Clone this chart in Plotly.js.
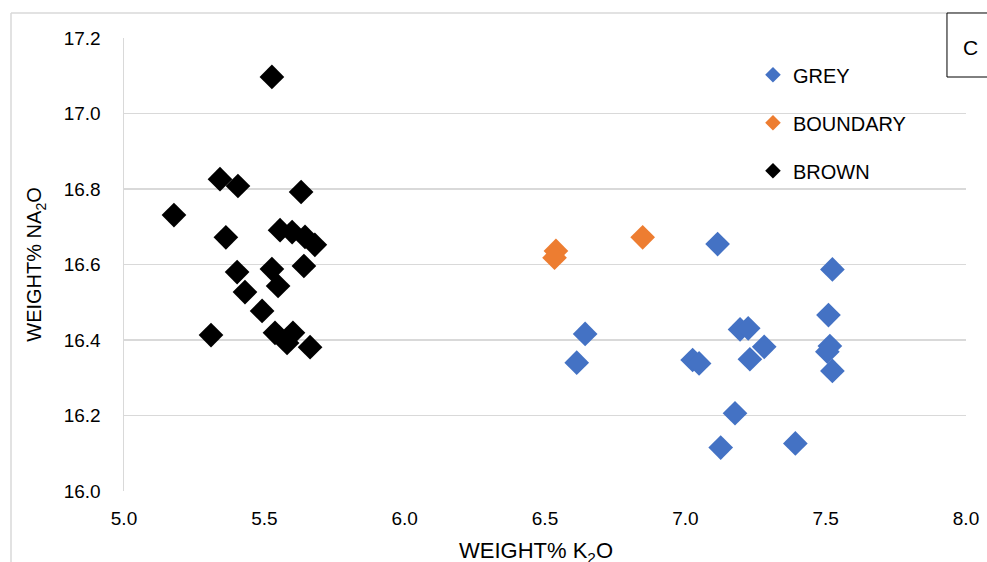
<!DOCTYPE html>
<html>
<head>
<meta charset="utf-8">
<script src="https://cdn.plot.ly/plotly-3.0.1.min.js"></script>
<style>html,body{margin:0;padding:0;background:#fff;}#chart{width:987px;height:562px;}</style>
</head>
<body>
<div id="chart"></div>
<script>
// GREY samples
const greyK2O = [7.115, 7.524, 7.510, 6.643, 7.195, 7.224, 7.281, 7.230, 7.515, 7.506, 7.524, 6.613, 7.026, 7.049, 7.177, 7.126, 7.392];
const greyNa2O = [16.654, 16.587, 16.466, 16.416, 16.428, 16.431, 16.382, 16.349, 16.384, 16.369, 16.318, 16.340, 16.347, 16.338, 16.206, 16.115, 16.126];
// BOUNDARY samples
const boundaryK2O = [6.539, 6.534, 6.848];
const boundaryNa2O = [16.636, 16.618, 16.672];
// BROWN samples
const brownK2O = [5.527, 5.178, 5.342, 5.406, 5.631, 5.363, 5.556, 5.599, 5.645, 5.680, 5.403, 5.527, 5.641, 5.549, 5.431, 5.492, 5.310, 5.538, 5.602, 5.581, 5.663];
const brownNa2O = [17.097, 16.731, 16.826, 16.808, 16.792, 16.672, 16.691, 16.686, 16.673, 16.652, 16.580, 16.588, 16.596, 16.543, 16.527, 16.477, 16.413, 16.419, 16.419, 16.392, 16.381];

const seriesNames = ['GREY', 'BOUNDARY', 'BROWN'];
const seriesColors = ['#4472C4', '#ED7D31', '#000000'];
const xTicks = [5.0, 5.5, 6.0, 6.5, 7.0, 7.5, 8.0];
const yTicks = [16.0, 16.2, 16.4, 16.6, 16.8, 17.0, 17.2];

const FONT = '"Liberation Sans", Arial, sans-serif';
const xs = [greyK2O, boundaryK2O, brownK2O];
const ys = [greyNa2O, boundaryNa2O, brownNa2O];

const traces = seriesNames.map((n, i) => ({
  type: 'scatter', mode: 'markers', name: n,
  x: xs[i], y: ys[i], legendgroup: 'g' + i,
  marker: {symbol: 'diamond', size: 19, color: seriesColors[i]},
  hoverinfo: 'x+y'
}));

const layout = {
  width: 987, height: 562,
  margin: {l: 124, r: 21, t: 38, b: 71},
  paper_bgcolor: '#fff', plot_bgcolor: '#fff',
  font: {family: FONT, size: 19, color: '#000'},
  showlegend: true,
  legend: {
    x: 0.747, y: 0.962, xanchor: 'left', yanchor: 'top',
    font: {family: FONT, size: 20, color: '#000'},
    itemsizing: 'constant', tracegroupgap: 19, traceorder: 'grouped',
    bgcolor: 'rgba(0,0,0,0)', itemwidth: 30
  },
  xaxis: {
    range: [5, 8], tickvals: xTicks, ticktext: xTicks.map(v => v.toFixed(1)),
    showgrid: false, zeroline: false, showline: false,
    ticks: 'outside', ticklen: 10, tickcolor: 'rgba(0,0,0,0)',
    tickfont: {family: FONT, size: 19, color: '#000'}
  },
  yaxis: {
    range: [16, 17.2], tickvals: yTicks, ticktext: yTicks.map(v => v.toFixed(1)),
    showgrid: true, gridcolor: '#D9D9D9', gridwidth: 1.5, zeroline: false,
    showline: true, linecolor: '#D9D9D9', linewidth: 1.5,
    ticks: 'outside', ticklen: 18, tickcolor: 'rgba(0,0,0,0)',
    tickfont: {family: FONT, size: 19, color: '#000'},
    title: {text: 'WEIGHT% NA<sub>2</sub>O', font: {family: FONT, size: 20, color: '#000'}, standoff: 16}
  },
  shapes: [
    {type: 'line', xref: 'paper', yref: 'paper', x0: -0.1342, x1: 0.9774, y0: 1.0552, y1: 1.0552, line: {color: '#D9D9D9', width: 1.5}},
    {type: 'line', xref: 'paper', yref: 'paper', x0: -0.1342, x1: -0.1342, y0: 1.0552, y1: -0.2, line: {color: '#D9D9D9', width: 1.5}},
    {type: 'rect', xref: 'paper', yref: 'paper', x0: 0.9774, x1: 1.04, y0: 0.9139, y1: 1.0552, line: {color: '#000', width: 1}, fillcolor: '#fff'}
  ],
  annotations: [
    {xref: 'paper', yref: 'paper', x: 1.0048, y: 0.978, xanchor: 'center', yanchor: 'middle', text: 'C', showarrow: false, font: {family: FONT, size: 21, color: '#000'}},
    {xref: 'paper', yref: 'paper', x: 0.4893, y: -0.1347, xanchor: 'center', yanchor: 'middle', text: 'WEIGHT% K<sub>2</sub>O', showarrow: false, font: {family: FONT, size: 22, color: '#000'}}
  ]
};

Plotly.newPlot('chart', traces, layout, {displayModeBar: false, staticPlot: true});
</script>
</body>
</html>
